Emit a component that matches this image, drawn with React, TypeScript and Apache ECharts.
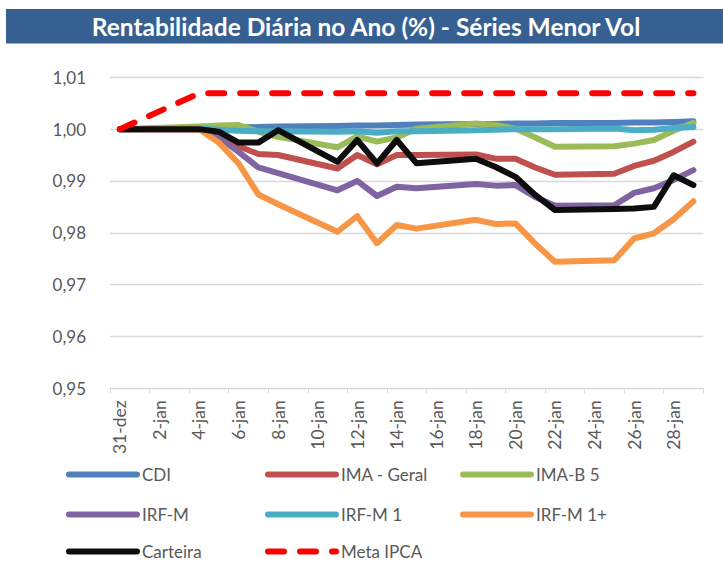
import React, { useEffect, useRef } from "react";
import * as echarts from "echarts";

const titleText = "Rentabilidade Diária no Ano (%) - Séries Menor Vol";

const categories = [
  "31-dez", "1-jan", "2-jan", "3-jan", "4-jan", "5-jan", "6-jan", "7-jan", "8-jan", "9-jan",
  "10-jan", "11-jan", "12-jan", "13-jan", "14-jan", "15-jan", "16-jan", "17-jan", "18-jan", "19-jan",
  "20-jan", "21-jan", "22-jan", "23-jan", "24-jan", "25-jan", "26-jan", "27-jan", "28-jan", "29-jan",
];

const _ = null;
// one value per calendar day; null = no trading (holiday / weekend)
const cdi = [1.0000, _, _, _, 1.0002, 1.0003, 1.0003, 1.0004, 1.0005, _, _, 1.0006, 1.0007, 1.0007, 1.0008, 1.0009, _, _, 1.0010, 1.0010, 1.0011, 1.0011, 1.0012, _, _, 1.0012, 1.0013, 1.0013, 1.0014, 1.0015];
const imaGeral = [1.0000, _, _, _, 1.0000, 0.9988, 0.9967, 0.9952, 0.9950, _, _, 0.9924, 0.9950, 0.9932, 0.9950, 0.9950, _, _, 0.9951, 0.9943, 0.9943, 0.9926, 0.9912, _, _, 0.9914, 0.9929, 0.9939, 0.9956, 0.9976];
const imaB5 = [1.0000, _, _, _, 1.0005, 1.0007, 1.0008, 0.9995, 0.9985, _, _, 0.9965, 0.9986, 0.9976, 0.9984, 1.0001, _, _, 1.0011, 1.0008, 1.0001, 0.9984, 0.9966, _, _, 0.9967, 0.9972, 0.9979, 0.9997, 1.0012];
const irfM = [1.0000, _, _, _, 1.0000, 0.9984, 0.9956, 0.9926, 0.9915, _, _, 0.9882, 0.9900, 0.9871, 0.9889, 0.9886, _, _, 0.9894, 0.9891, 0.9892, 0.9869, 0.9852, _, _, 0.9853, 0.9877, 0.9886, 0.9902, 0.9921];
const irfM1 = [1.0000, _, _, _, 1.0001, 0.9999, 0.9997, 0.9996, 0.9996, _, _, 0.9995, 0.9996, 0.9993, 0.9996, 0.9996, _, _, 0.9998, 0.9999, 1.0000, 1.0000, 1.0000, _, _, 1.0001, 0.9998, 0.9999, 1.0002, 1.0004];
const irfM1Plus = [1.0000, _, _, _, 1.0000, 0.9974, 0.9934, 0.9874, 0.9855, _, _, 0.9802, 0.9832, 0.9780, 0.9815, 0.9808, _, _, 0.9825, 0.9817, 0.9818, 0.9779, 0.9744, _, _, 0.9747, 0.9789, 0.9799, 0.9826, 0.9861];
const carteira = [1.0000, _, _, _, 1.0000, 0.9995, 0.9974, 0.9974, 0.9998, _, _, 0.9937, 0.9979, 0.9934, 0.9979, 0.9934, _, _, 0.9943, 0.9927, 0.9908, 0.9873, 0.9844, _, _, 0.9846, 0.9847, 0.9850, 0.9911, 0.9892];
const metaIpca = [1.0000, _, _, _, 1.0069, 1.0069, 1.0069, 1.0069, 1.0069, _, _, 1.0069, 1.0069, 1.0069, 1.0069, 1.0069, _, _, 1.0069, 1.0069, 1.0069, 1.0069, 1.0069, _, _, 1.0069, 1.0069, 1.0069, 1.0069, 1.0069];

const seriesNames = ["CDI", "IMA - Geral", "IMA-B 5", "IRF-M", "IRF-M 1", "IRF-M 1+", "Carteira", "Meta IPCA"];
const seriesData = [cdi, imaGeral, imaB5, irfM, irfM1, irfM1Plus, carteira, metaIpca];
const seriesColors = ["#4F81BD", "#C0504D", "#9BBB59", "#8064A2", "#4BACC6", "#F79646", "#0D0D0D", "#FF0000"];

const yMin = 0.95;
const yMax = 1.01;
const yStep = 0.01;

const FONT = "Lato, 'Open Sans', sans-serif";

export default function App() {
  const ref = useRef<HTMLDivElement>(null);

  useEffect(() => {
    if (!ref.current) return;
    const chart = echarts.init(ref.current, undefined, { renderer: "svg" });
    // legend layout: 3 columns x 3 rows (series order row by row)
    const colLefts = [66, 265, 460];
    const rowTops = [466, 506, 543];
    chart.setOption({
      animation: false,
      backgroundColor: "#ffffff",
      graphic: [
        {
          type: "rect",
          shape: { x: 6, y: 9, width: 717, height: 34.5 },
          style: { fill: "#376092" },
          silent: true,
        },
        {
          type: "text",
          x: 366,
          y: 26.5,
          style: {
            text: titleText,
            fill: "#ffffff",
            font: `bold 24.5px ${FONT}`,
            align: "center",
            verticalAlign: "middle",
            textAlign: "center",
            textVerticalAlign: "middle",
          },
          silent: true,
        },
      ],
      grid: { left: 110, right: 19.7, top: 77.3, bottom: 172.7, containLabel: false },
      legend: seriesNames.map((name, i) => ({
        data: [name],
        orient: "horizontal",
        left: colLefts[i % 3],
        top: rowTops[Math.floor(i / 3)],
        padding: 0,
        itemWidth: 68,
        itemHeight: 20,
        selectedMode: false,
        textStyle: { color: "#595959", fontSize: 17, fontFamily: FONT },
        lineStyle: { width: 6, cap: "round" },
        itemStyle: { opacity: 0, borderWidth: 0 },
      })),
      xAxis: {
        type: "category",
        data: categories,
        boundaryGap: true,
        axisLine: { show: true, lineStyle: { color: "#d9d9d9", width: 1 } },
        axisTick: { show: true, interval: 1, length: 5, lineStyle: { color: "#d9d9d9" } },
        axisLabel: {
          interval: 1,
          rotate: 90,
          margin: 12,
          color: "#595959",
          fontSize: 17.5,
          fontFamily: FONT,
        },
        splitLine: { show: false },
      },
      yAxis: {
        type: "value",
        min: yMin,
        max: yMax,
        interval: yStep,
        axisLine: { show: false },
        axisTick: { show: false },
        axisLabel: {
          margin: 24,
          color: "#595959",
          fontSize: 17,
          fontFamily: FONT,
          formatter: (v: number) => v.toFixed(2).replace(".", ","),
        },
        splitLine: { show: true, lineStyle: { color: "#d9d9d9", width: 1.3 } },
      },
      series: seriesNames.map((name, i) => ({
        name,
        type: "line",
        data: seriesData[i],
        connectNulls: true,
        symbol: "none",
        color: seriesColors[i],
        lineStyle: {
          width: 6,
          color: seriesColors[i],
          cap: "round",
          join: "round",
          type: name === "Meta IPCA" ? [16, 16] : "solid",
        },
        z: 2 + i,
      })),
    });
    return () => chart.dispose();
  }, []);

  return (
    <div
      ref={ref}
      style={{ position: "fixed", left: 0, top: 0, width: 723, height: 561 }}
    />
  );
}
